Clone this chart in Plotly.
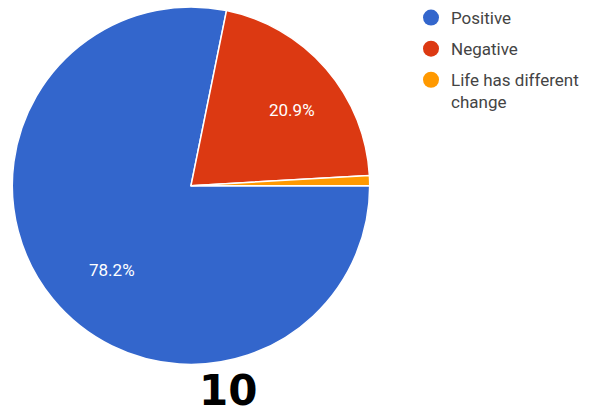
import math
import plotly.graph_objects as go

labels = ["Positive", "Negative", "Life has different change"]
legend_labels = ["Positive", "Negative", "Life has different<br>change"]
values = [86, 23, 1]
colors = ["#3366cc", "#dc3912", "#ff9900"]
title_text = "10"

W, H = 606, 417
cx, cy, R = 191, 184, 180          # pie centre / radius in pixels
start_deg = 90                      # first slice starts at 3 o'clock, clockwise

fig = go.Figure()
fig.add_trace(go.Pie(
    labels=labels,
    values=values,
    sort=False,
    direction="clockwise",
    rotation=start_deg,
    marker=dict(colors=colors, line=dict(color="white", width=1.5)),
    textinfo="none",
    showlegend=False,
    hoverinfo="label+percent",
    domain=dict(x=[(cx - R) / W, (cx + R) / W], y=[1 - (cy + R) / H, 1 - (cy - R) / H]),
))
for lab, col in zip(legend_labels, colors):
    fig.add_trace(go.Scatter(
        x=[None], y=[None], mode="markers", name=lab, legendgroup=lab,
        marker=dict(color=col, size=18, symbol="circle"),
    ))

# percentage labels placed at the slice mid-angle (computed from the values)
total = sum(values)
annotations = []
acc = 0
for v in values:
    frac = v / total
    mid = math.radians(start_deg + 360 * (acc + frac / 2))
    acc += frac
    if frac < 0.05:
        continue
    px = cx + 0.745 * R * math.sin(mid)
    py = cy - 0.745 * R * math.cos(mid)
    annotations.append(dict(text=f"{frac * 100:.1f}%", x=px / W, y=1 - py / H,
                            xref="paper", yref="paper", showarrow=False,
                            font=dict(family="Roboto", size=17, color="white")))

annotations.append(dict(text="<b>" + title_text + "</b>", x=228 / W, y=0.0,
                        xref="paper", yref="paper", showarrow=False,
                        xanchor="center", yanchor="bottom",
                        font=dict(family="DejaVu Sans", size=42, color="black")))

fig.update_layout(
    width=W, height=H,
    margin=dict(l=0, r=0, t=0, b=0),
    paper_bgcolor="white", plot_bgcolor="white",
    xaxis=dict(visible=False), yaxis=dict(visible=False),
    legend=dict(x=411 / W, y=1 + 3 / H, xanchor="left", yanchor="top", valign="top",
                font=dict(family="Roboto", size=17, color="#444444"),
                tracegroupgap=6, itemwidth=30, bgcolor="rgba(0,0,0,0)"),
    annotations=annotations,
)
fig.write_html("out.html", config={"displayModeBar": False},
               post_script="document.body.style.margin='0';")
